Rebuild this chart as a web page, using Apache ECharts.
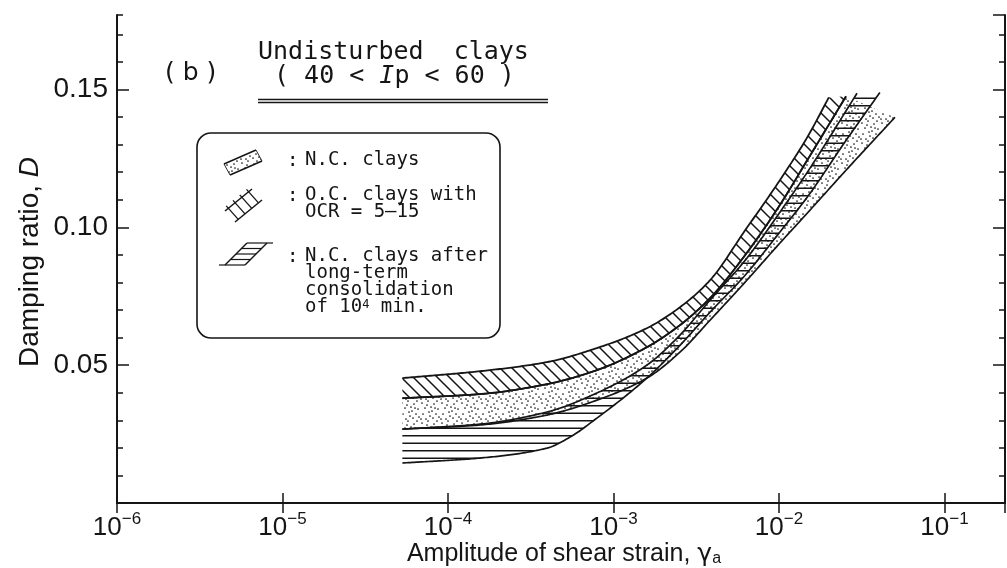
<!DOCTYPE html>
<html>
<head>
<meta charset="utf-8">
<script src="https://cdn.jsdelivr.net/npm/echarts@6/dist/echarts.min.js"></script>
<style>
  html, body { margin: 0; padding: 0; background: #fff; }
  #chart { width: 1007px; height: 568px; }
</style>
</head>
<body>
<div id="chart"></div>
<script>
// ---- axis ranges and ticks ----
const xMin = 1e-6;
const xMax = 0.232;
const yMin = 0;
const yMax = 0.177;
const yMajorStep = 0.05;
const yMinorStep = 0.01;

// ---- band boundaries: [shear strain amplitude, damping ratio D] ----
// O.C. clays with OCR = 5-15
const ocUpper = [
  [5.3e-5, 0.0453], [1.56e-4, 0.0478], [3.96e-4, 0.0511], [7.94e-4, 0.0562],
  [1.59e-3, 0.0634], [2.52e-3, 0.0710], [3.83e-3, 0.0808], [6.24e-3, 0.0989],
  [1.01e-2, 0.1170], [1.48e-2, 0.1326], [2.00e-2, 0.1471]
];
const ocLower = [
  [5.3e-5, 0.0380], [1.56e-4, 0.0395], [3.96e-4, 0.0431], [7.94e-4, 0.0482],
  [1.59e-3, 0.0565], [2.52e-3, 0.0645], [3.83e-3, 0.0743], [6.24e-3, 0.0899],
  [1.01e-2, 0.1080], [1.48e-2, 0.1243], [2.54e-2, 0.1475]
];
// N.C. clays (upper edge runs along the O.C. lower edge)
const ncUpper = ocLower;
const ncLower = [
  [5.3e-5, 0.0268], [1.56e-4, 0.0283], [3.96e-4, 0.0319], [7.94e-4, 0.0373],
  [1.59e-3, 0.0453], [2.52e-3, 0.0547], [3.83e-3, 0.0663], [6.24e-3, 0.0801],
  [1.01e-2, 0.0942], [1.48e-2, 0.1051], [2.54e-2, 0.1207], [5.02e-2, 0.1399]
];
// N.C. clays after long-term consolidation of 10^4 min
const ltUpper = [
  [5.3e-5, 0.0268], [1.56e-4, 0.0286], [3.96e-4, 0.0330], [7.94e-4, 0.0399],
  [1.59e-3, 0.0500], [2.52e-3, 0.0609], [3.83e-3, 0.0736], [6.24e-3, 0.0880],
  [1.01e-2, 0.1054], [1.48e-2, 0.1199], [2.96e-2, 0.1486]
];
const ltLower = [
  [5.3e-5, 0.0145], [1.56e-4, 0.0163], [3.96e-4, 0.0199], [5.46e-4, 0.0239],
  [7.94e-4, 0.0308], [1.59e-3, 0.0453], [2.52e-3, 0.0572], [3.83e-3, 0.0692],
  [6.24e-3, 0.0826], [1.01e-2, 0.0982], [1.48e-2, 0.1109], [2.54e-2, 0.1315],
  [4.07e-2, 0.1489]
];

// ---- text ----
const titleLine1 = 'Undisturbed  clays';
const titleLine2 = '( 40 < {it|I}p < 60 )';
const panelTag = '( b )';
const legendLabels = [
  'N.C. clays',
  'O.C. clays with\nOCR = 5\u201315',
  'N.C. clays after\nlong-term\nconsolidation\nof 10{sup|4} min.'
];
const xTitle = 'Amplitude of shear strain, {g|\u03b3}{sub|a}';
const yTitle = 'Damping ratio, {it|D}';

const INK = '#151515';
const AXIS_FONT = '"Liberation Sans", Arial, sans-serif';
const PLOT_FONT = '"DejaVu Sans Mono", monospace';

// ---- fill patterns ----
function makeTile(w, h, draw) {
  const c = document.createElement('canvas');
  c.width = w; c.height = h;
  const g = c.getContext('2d');
  g.strokeStyle = INK; g.fillStyle = INK;
  draw(g, w, h);
  return { image: c, repeat: 'repeat' };
}
const hatchDiag = makeTile(12, 12, (g, w, h) => {
  g.lineWidth = 1.5;
  g.beginPath();
  for (let o = -w; o <= w; o += w) { g.moveTo(o - 1, -1); g.lineTo(o + w + 1, h + 1); }
  g.stroke();
});
const hatchHoriz = makeTile(16, 15, (g, w) => {
  g.fillRect(0, 0, w, 1.5);
  g.fillRect(0, 7.5, w, 1.5);
});
const stippleDots = [
  [2, 3], [8, 1], [14, 4], [18, 9], [5, 8], [11, 7], [16, 14], [3, 14],
  [9, 12], [13, 18], [19, 17], [6, 19], [12, 11], [17, 1], [1, 19], [7, 5],
  [15, 8], [10, 16]
];
const stipple = makeTile(20, 20, (g) => {
  stippleDots.forEach(([x, y]) => { g.beginPath(); g.arc(x, y, 0.85, 0, Math.PI * 2); g.fill(); });
});

// Monotone cubic through pixel points (x increasing) for smooth band edges
function smoothPath(pts) {
  const n = pts.length;
  if (n < 3) return pts;
  const dx = [], m = [], d = [];
  for (let i = 0; i < n - 1; i++) {
    dx[i] = pts[i + 1][0] - pts[i][0];
    m[i] = (pts[i + 1][1] - pts[i][1]) / dx[i];
  }
  d[0] = m[0]; d[n - 1] = m[n - 2];
  for (let i = 1; i < n - 1; i++) {
    if (m[i - 1] * m[i] <= 0) { d[i] = 0; continue; }
    const w1 = 2 * dx[i] + dx[i - 1], w2 = dx[i] + 2 * dx[i - 1];
    d[i] = (w1 + w2) / (w1 / m[i - 1] + w2 / m[i]);
  }
  const out = [];
  for (let i = 0; i < n - 1; i++) {
    const h = dx[i], y0 = pts[i][1], y1 = pts[i + 1][1];
    const k = Math.max(2, Math.ceil(h / 2));
    for (let j = 0; j < k; j++) {
      const t = j / k, t2 = t * t, t3 = t2 * t;
      const y = (2 * t3 - 3 * t2 + 1) * y0 + (t3 - 2 * t2 + t) * h * d[i] +
                (-2 * t3 + 3 * t2) * y1 + (t3 - t2) * h * d[i + 1];
      out.push([pts[i][0] + t * h, y]);
    }
  }
  out.push(pts[n - 1]);
  return out;
}

function bandSeries(name, upper, lower, fill, edgeWidth) {
  return {
    type: 'custom',
    name: name,
    silent: true,
    clip: false,
    data: [upper[0]],
    renderItem: function (params, api) {
      const up = smoothPath(upper.map(p => api.coord(p)));
      const lo = smoothPath(lower.map(p => api.coord(p)));
      return {
        type: 'group',
        children: [
          { type: 'polygon', shape: { points: up.concat(lo.slice().reverse()) },
            style: { fill: fill, stroke: null } },
          { type: 'polyline', shape: { points: up },
            style: { fill: null, stroke: INK, lineWidth: edgeWidth } },
          { type: 'polyline', shape: { points: lo },
            style: { fill: null, stroke: INK, lineWidth: edgeWidth } }
        ]
      };
    }
  };
}

function expLabel(v) {
  const e = Math.round(Math.log10(v));
  return '{b|10}{e|' + (e < 0 ? '\u2212' + (-e) : e) + '}';
}

const axisLineStyle = { color: INK, width: 2 };
function xAxisDef(pos, labels) {
  return {
    type: 'log', logBase: 10, min: xMin, max: xMax, position: pos,
    axisLine: { show: true, lineStyle: axisLineStyle },
    axisTick: { show: true, inside: true, length: 10, lineStyle: { color: INK, width: 1.5 } },
    minorTick: { show: false },
    splitLine: { show: false },
    axisLabel: labels ? {
      show: true, margin: 8, showMaxLabel: false, color: INK,
      formatter: expLabel,
      rich: {
        b: { fontFamily: AXIS_FONT, fontSize: 26, lineHeight: 34, color: INK },
        e: { fontFamily: AXIS_FONT, fontSize: 17, lineHeight: 17, verticalAlign: 'top', color: INK }
      }
    } : { show: false }
  };
}
function yAxisDef(pos, step, tickLen, labels) {
  return {
    type: 'value', min: yMin, max: yMax, interval: step, position: pos,
    axisLine: { show: step === yMajorStep, lineStyle: axisLineStyle },
    axisTick: { show: true, inside: true, length: tickLen, lineStyle: { color: INK, width: 1.5 } },
    splitLine: { show: false },
    axisLabel: labels ? {
      show: true, margin: 9, showMinLabel: false, showMaxLabel: false,
      fontFamily: AXIS_FONT, fontSize: 28, color: INK,
      formatter: v => v.toFixed(2)
    } : { show: false }
  };
}

// ---- legend box, legend symbols and titles ----
const LX = 305; // legend text column
function colon(y) {
  return { type: 'text', x: 287, y: y, style: { text: ':', font: '19px ' + PLOT_FONT, fill: INK, verticalAlign: 'middle' } };
}
function legendText(text, yTop) {
  return {
    type: 'text', x: LX, y: yTop,
    style: {
      text: text, font: '19px ' + PLOT_FONT, fill: INK, lineHeight: 17, verticalAlign: 'top',
      rich: { sup: { font: '12px ' + PLOT_FONT, fill: INK, lineHeight: 10, verticalAlign: 'top' } }
    }
  };
}
function line(points, w) {
  return { type: 'polyline', shape: { points: points }, style: { stroke: INK, lineWidth: w, fill: null } };
}
const ladderRungs = [];
[0.12, 0.37, 0.62, 0.87].forEach(t => {
  const ax = 225 + 27 * t, ay = 211 - 22 * t;
  ladderRungs.push(line([[ax - 2, ay - 2.5], [ax + 10, ay + 11]], 1.3));
});
const ltHatch = [];
[243, 248.5, 254, 259.5, 265].forEach((y, i) => {
  const l = 247 - (y - 243), r = 267 - (y - 243);
  const ext = i === 0 ? [l, r + 6] : (i === 4 ? [l - 6, r] : [l, r]);
  ltHatch.push(line([[ext[0], y], [ext[1], y]], 1.2));
});

const graphics = [
  // panel title
  { type: 'text', x: 165, y: 73, style: { text: panelTag, font: '25px "DejaVu Sans", sans-serif', fill: INK, verticalAlign: 'middle' } },
  { type: 'text', x: 258, y: 52, style: { text: titleLine1, font: '25px ' + PLOT_FONT, fill: INK, verticalAlign: 'middle' } },
  { type: 'text', x: 274, y: 76, style: {
      text: titleLine2, font: '25px ' + PLOT_FONT, fill: INK, verticalAlign: 'middle',
      rich: { it: { font: 'italic 25px ' + PLOT_FONT, fill: INK } } } },
  line([[258, 99.5], [548, 99.5]], 1.3),
  line([[258, 102.5], [548, 102.5]], 1.3),
  // legend frame
  { type: 'rect', shape: { x: 197, y: 133, width: 303, height: 205, r: 14 },
    style: { fill: null, stroke: INK, lineWidth: 1.6 } },
  // N.C. clays symbol
  { type: 'polygon', shape: { points: [[224, 164], [256, 150], [262, 161], [230, 175]] },
    style: { fill: stipple, stroke: null } },
  line([[224, 164], [256, 150]], 1.5), line([[230, 175], [262, 161]], 1.5),
  line([[224, 164], [230, 175]], 0.9), line([[256, 150], [262, 161]], 0.9),
  // O.C. clays symbol (ladder)
  line([[225, 211], [252, 189]], 1.5), line([[235, 222], [262, 200]], 1.5),
  ...ladderRungs,
  // long-term consolidation symbol
  line([[225, 265], [247, 243]], 1.5), line([[245, 265], [267, 243]], 1.5),
  ...ltHatch,
  // legend entries
  colon(161), legendText(legendLabels[0], 152),
  colon(196), legendText(legendLabels[1], 187),
  colon(257), legendText(legendLabels[2], 248),
  // axis titles
  { type: 'text', x: 564, y: 554, style: {
      text: xTitle, font: '25px ' + AXIS_FONT, fill: INK, align: 'center', verticalAlign: 'middle',
      rich: {
        g: { font: '25px "DejaVu Sans", sans-serif', fill: INK },
        sub: { font: '16px ' + AXIS_FONT, fill: INK, verticalAlign: 'bottom', lineHeight: 13 }
      } } },
  { type: 'text', x: 30, y: 262, rotation: Math.PI / 2, style: {
      text: yTitle, font: '28px ' + AXIS_FONT, fill: INK, align: 'center', verticalAlign: 'middle',
      rich: { it: { font: 'italic 28px ' + AXIS_FONT, fill: INK } } } }
];

const chart = echarts.init(document.getElementById('chart'), null, { renderer: 'canvas' });
chart.setOption({
  animation: false,
  backgroundColor: '#fff',
  grid: { left: 117, top: 15, right: 2, bottom: 65, containLabel: false },
  xAxis: [xAxisDef('bottom', true), xAxisDef('top', false)],
  yAxis: [
    yAxisDef('left', yMajorStep, 12, true),
    yAxisDef('left', yMinorStep, 6, false),
    yAxisDef('right', yMajorStep, 12, false),
    yAxisDef('right', yMinorStep, 6, false)
  ],
  series: [
    bandSeries('N.C. clays', ncUpper, ncLower, stipple, 1.7),
    bandSeries('N.C. clays after long-term consolidation', ltUpper, ltLower, hatchHoriz, 1.7),
    bandSeries('O.C. clays with OCR = 5-15', ocUpper, ocLower, hatchDiag, 1.8)
  ],
  graphic: graphics
});
</script>
</body>
</html>
